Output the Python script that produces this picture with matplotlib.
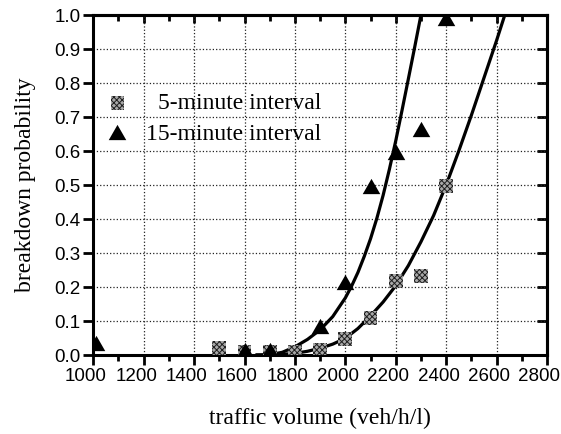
import matplotlib
matplotlib.use("Agg")
import matplotlib.pyplot as plt
from matplotlib.transforms import ScaledTranslation

# ---- data ----
five_x = [1500, 1600, 1700, 1800, 1900, 2000, 2100, 2200, 2300, 2400]
five_y = [0.02, 0.01, 0.01, 0.01, 0.015, 0.047, 0.108, 0.218, 0.232, 0.498]

fifteen_x = [1010, 1600, 1700, 1900, 2000, 2100, 2200, 2300, 2400]
fifteen_y = [0.035, 0.016, 0.016, 0.086, 0.215, 0.498, 0.596, 0.664, 0.99]

# fitted curves
fit15_x = [1650, 1700, 1750, 1800, 1850, 1900, 1950, 2000, 2025, 2050, 2075,
           2100, 2125, 2150, 2175, 2200, 2225, 2250, 2275, 2300, 2310]
fit15_y = [0.0, 0.001, 0.008, 0.024, 0.046, 0.074, 0.113, 0.168, 0.203, 0.243,
           0.29, 0.342, 0.402, 0.47, 0.547, 0.63, 0.72, 0.812, 0.905, 1.0, 1.04]

fit5_x = [1650, 1700, 1750, 1800, 1850, 1900, 1950, 2000, 2050, 2100, 2150,
          2200, 2250, 2300, 2350, 2400, 2450, 2500, 2550, 2600, 2650]
fit5_y = [0.0, 0.0, 0.002, 0.005, 0.011, 0.02, 0.032, 0.049, 0.078, 0.115, 0.156,
          0.204, 0.263, 0.333, 0.41, 0.5, 0.6, 0.705, 0.815, 0.925, 1.04]

x_ticks = list(range(1000, 2801, 200))
x_minor = list(range(1100, 2800, 200))
y_ticks = [i / 10 for i in range(11)]

LABEL_FONT = "Liberation Serif"
TICK_FONT = "Liberation Sans"
SQ_FACE = "#a8a8a8"
SQ_HATCH = "#1e1e1e"

fig = plt.figure(figsize=(5.61, 4.34), dpi=100)
ax = fig.add_axes([0.1663, 0.182, 0.8087, 0.7834])

ax.set_xlim(1000, 2800)
ax.set_ylim(0, 1.0)
ax.set_xticks(x_ticks)
ax.set_xticks(x_minor, minor=True)
ax.set_yticks(y_ticks)
ax.set_xticklabels([str(v) for v in x_ticks], fontfamily=TICK_FONT, fontsize=13.5)
ax.set_yticklabels([f"{v:.1f}" for v in y_ticks], fontfamily=TICK_FONT, fontsize=13.5)

ax.grid(True, which="major", linestyle=":", linewidth=0.9, color="#222222")
ax.set_axisbelow(True)

for sp in ax.spines.values():
    sp.set_linewidth(2.2)

ax.tick_params(axis="both", which="major", direction="out", length=7, width=2,
               pad=2)
ax.tick_params(axis="x", which="minor", direction="out", length=4.5, width=2)

# the x labels sit a little left of their ticks in the original
# (done after tick_params, which resets the label transforms)
shift = ScaledTranslation(-7.5 / 100, 0, fig.dpi_scale_trans)
for lab in ax.get_xticklabels():
    lab.set_transform(lab.get_transform() + shift)

# mirrored ticks on top/right, pointing inward
top = ax.secondary_xaxis("top")
top.set_xticks(x_ticks)
top.set_xticks(x_minor, minor=True)
top.tick_params(which="major", direction="in", length=6, width=2, labeltop=False)
top.tick_params(which="minor", direction="in", length=4.5, width=2)
right = ax.secondary_yaxis("right")
right.set_yticks(y_ticks)
right.tick_params(direction="in", length=7, width=2, labelright=False)
top.spines["top"].set_linewidth(2.2)
right.spines["right"].set_linewidth(2.2)

# fit curves
ax.plot(fit15_x, fit15_y, color="black", linewidth=2.3, zorder=3,
        solid_joinstyle="round")
ax.plot(fit5_x, fit5_y, color="black", linewidth=2.3, zorder=3,
        solid_joinstyle="round")

# data points
plt.rcParams["hatch.linewidth"] = 0.7
ax.scatter(five_x, five_y, marker="s", s=100, facecolors=SQ_FACE,
           edgecolors=SQ_HATCH, linewidths=0, hatch="xxxxxx", zorder=4)
tri = [(0, 0.87), (-1, -0.87), (1, -0.87)]
ax.scatter(fifteen_x, fifteen_y, marker=tri, s=160, color="black",
           linewidths=0, zorder=5)

# legend (drawn by hand so the labels are right-aligned)
ax.scatter([0.0533], [0.741], marker="s", s=100, facecolors=SQ_FACE,
           edgecolors=SQ_HATCH, linewidths=0, hatch="xxxxxx",
           transform=ax.transAxes, zorder=5)
ax.scatter([0.0533], [0.657], marker=tri, s=160, color="black", linewidths=0,
           transform=ax.transAxes, zorder=5)
ax.text(0.502, 0.7226, "5-minute interval", transform=ax.transAxes,
        ha="right", va="baseline", fontfamily=LABEL_FONT, fontsize=17)
ax.text(0.502, 0.632, "15-minute interval", transform=ax.transAxes,
        ha="right", va="baseline", fontfamily=LABEL_FONT, fontsize=17)

ax.set_xlabel("traffic volume (veh/h/l)", fontfamily=LABEL_FONT, fontsize=17,
              labelpad=17)
ax.set_ylabel("breakdown probability", fontfamily=LABEL_FONT, fontsize=17,
              labelpad=13)

fig.savefig("out.png", dpi=100)
